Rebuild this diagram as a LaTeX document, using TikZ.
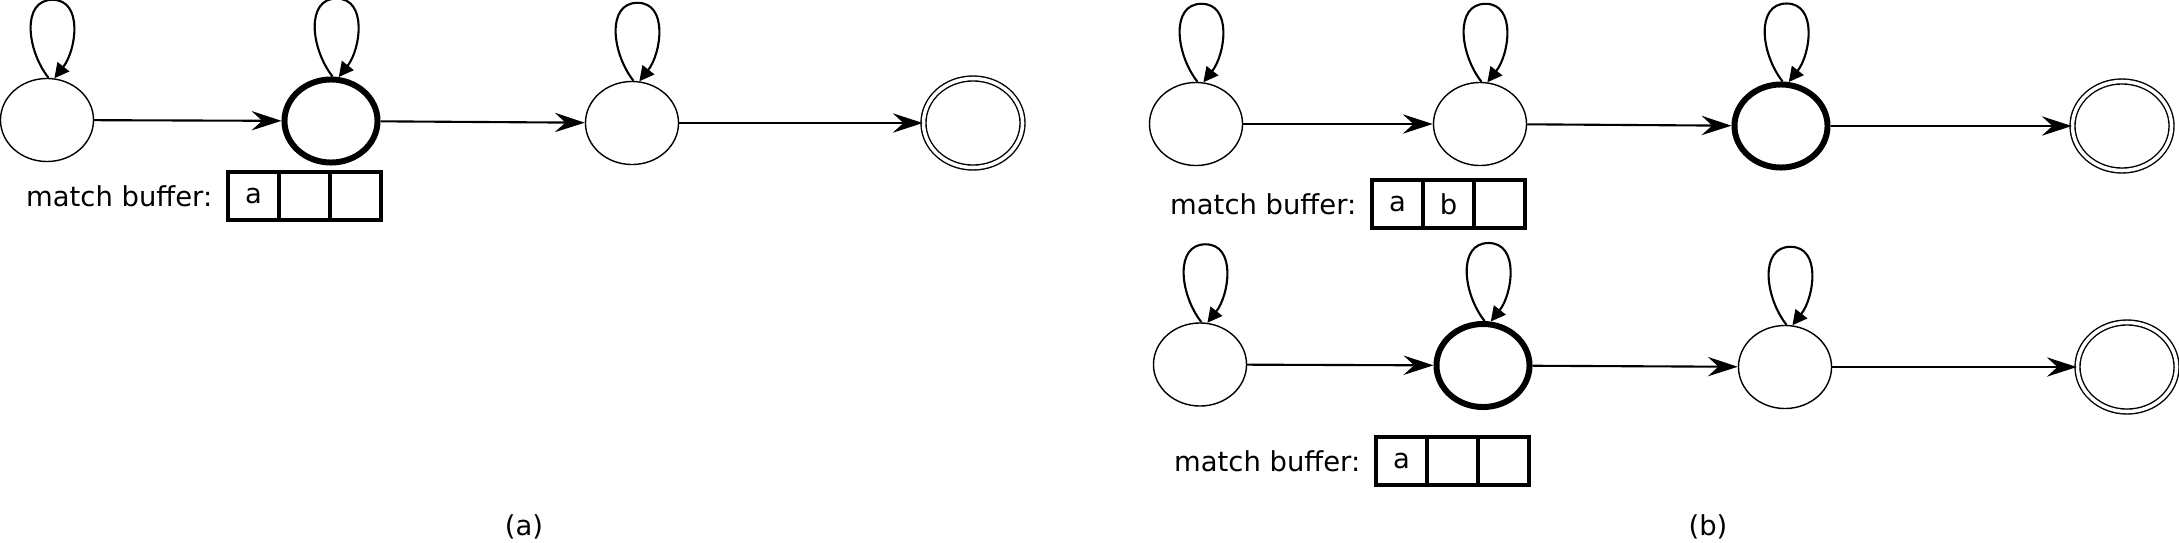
\documentclass[tikz,border=0pt]{standalone}
\usepackage{fontspec}
\setmainfont{DejaVu Sans}
\usetikzlibrary{arrows.meta, shapes.geometric, positioning}

\begin{document}
\begin{tikzpicture}[x=0.01cm, y=-0.01cm, font=\fontsize{7.8}{9}\selectfont,
	state/.style={ellipse, draw, line width=0.4pt, minimum width=0.93cm, minimum height=0.83cm, inner sep=0pt},
	current/.style={state, line width=1.7pt},
	accept/.style={state, double, double distance=1.0pt, minimum width=0.99cm, minimum height=0.89cm},
	trans/.style={-{Stealth[length=8.5pt, width=5.5pt, inset=3pt]}, line width=0.6pt},
	self/.style={-{Triangle[length=4.2pt, width=4.2pt]}, line width=0.6pt},
	cell/.style={draw, line width=1.1pt, minimum width=0.51cm, minimum height=0.48cm, inner sep=0pt, outer sep=0pt},
	buflabel/.style={inner sep=0pt}]
	\useasboundingbox (0,0) rectangle (2179,542);

	% (a)
	\node[state]   (a1) at (47,120) {};
	\node[current] (a2) at (331,121) {};
	\node[state]   (a3) at (632,123) {};
	\node[accept]  (a4) at (973,123) {};
	\draw[trans] (a1) -- (a2); \draw[trans] (a2) -- (a3); \draw[trans] (a3) -- (a4);
	\node[cell] (ca1) at (253.5,196) {a}; \node[cell, right=0pt of ca1] (ca2) {}; \node[cell, right=0pt of ca2] (ca3) {};
	\node[buflabel, left=0.15cm of ca1] (la) {match buffer:};
	\node (capa) at (524,527) {(a)};

	% (b), top row
	\node[state]   (b1) at (1196,124) {};
	\node[state]   (b2) at (1480,124) {};
	\node[current] (b3) at (1781,126) {};
	\node[accept]  (b4) at (2122,126) {};
	\draw[trans] (b1) -- (b2); \draw[trans] (b2) -- (b3); \draw[trans] (b3) -- (b4);
	\node[cell] (cb1) at (1397.5,204) {a}; \node[cell, right=0pt of cb1] (cb2) {b}; \node[cell, right=0pt of cb2] (cb3) {};
	\node[buflabel, left=0.15cm of cb1] (lb) {match buffer:};

	% (b), bottom row
	\node[state]   (c1) at (1200,364.5) {};
	\node[current] (c2) at (1483,365.5) {};
	\node[state]   (c3) at (1785,367) {};
	\node[accept]  (c4) at (2127,367) {};
	\draw[trans] (c1) -- (c2); \draw[trans] (c2) -- (c3); \draw[trans] (c3) -- (c4);
	\node[cell] (cc1) at (1401.5,461) {a}; \node[cell, right=0pt of cc1] (cc2) {}; \node[cell, right=0pt of cc2] (cc3) {};
	\node[buflabel, left=0.15cm of cc1] (lc) {match buffer:};
	\node (capb) at (1708,527) {(b)};

	% self loops
	\foreach \s in {a1,a2,a3,b1,b2,b3,c1,c2,c3}
		\draw[self] (\s.88) .. controls +(-22,-28) and +(-31,0) .. ++(4,-78)
			.. controls +(31,0) and +(22,-28) .. (\s.80);
\end{tikzpicture}
\end{document}
